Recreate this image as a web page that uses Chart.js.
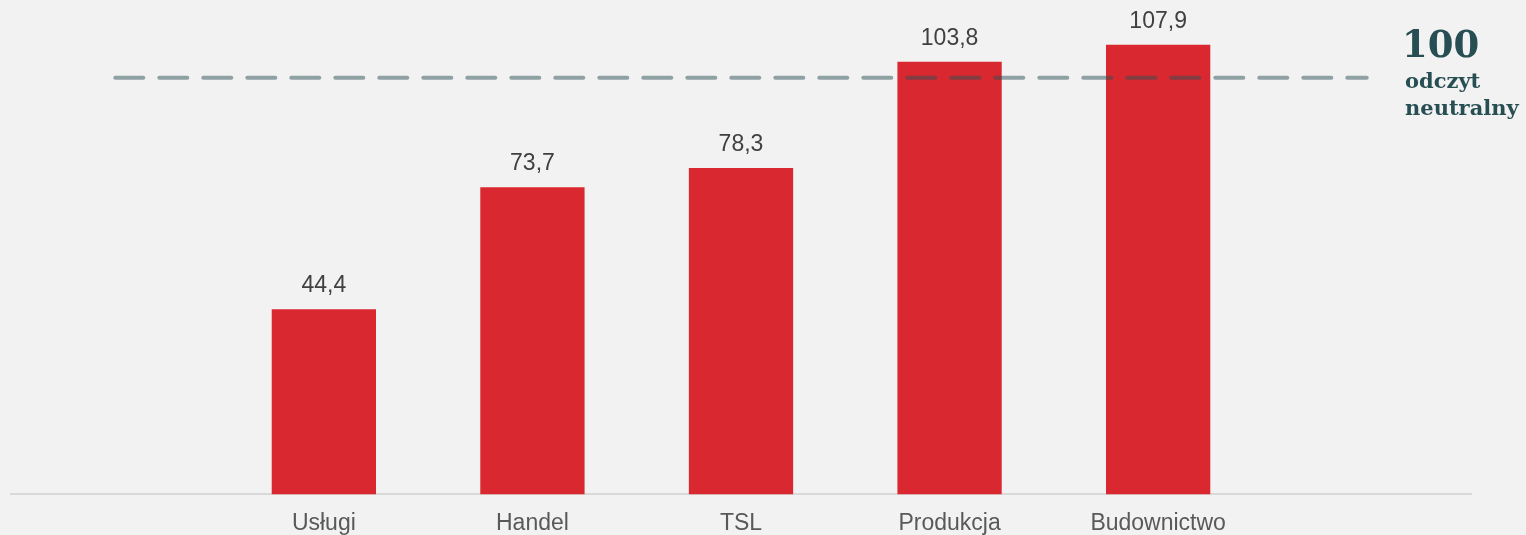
<!DOCTYPE html>
<html>
<head>
<meta charset="utf-8">
<script src="https://cdn.jsdelivr.net/npm/chart.js@4"></script>
<style>
  html, body { margin: 0; padding: 0; background: #f2f2f2; }
  #wrap { width: 1526px; height: 535px; }
</style>
</head>
<body>
<div id="wrap"><canvas id="bar-graph"></canvas></div>
<script>
// dane
const categories = ['', 'Usługi', 'Handel', 'TSL', 'Produkcja', 'Budownictwo', ''];
const values = [null, 44.4, 73.7, 78.3, 103.8, 107.9, null];
const neutral = [100, 100, 100, 100, 100, 100, 100];
const neutralText = ['100', 'odczyt', 'neutralny'];

// etykiety nad słupkami
const valueLabels = {
  id: 'valueLabels',
  afterDatasetsDraw(chart) {
    const ctx = chart.ctx;
    const meta = chart.getDatasetMeta(1);
    ctx.save();
    ctx.font = '23px "Liberation Sans", Arial, sans-serif';
    ctx.fillStyle = '#404040';
    ctx.textAlign = 'center';
    ctx.textBaseline = 'alphabetic';
    meta.data.forEach((bar, i) => {
      const v = values[i];
      if (v == null) return;
      ctx.fillText(v.toFixed(1).replace('.', ','), bar.x, bar.y - 17);
    });
    ctx.restore();
  }
};

// opis linii 100
const neutralLabel = {
  id: 'neutralLabel',
  afterDraw(chart) {
    const ctx = chart.ctx;
    const y = chart.scales.y.getPixelForValue(100);
    ctx.save();
    ctx.fillStyle = '#274f53';
    ctx.textAlign = 'left';
    ctx.textBaseline = 'alphabetic';
    ctx.font = 'bold 37px "DejaVu Serif", serif';
    ctx.fillText(neutralText[0], 1402, y - 21);
    ctx.font = 'bold 21px "DejaVu Serif", serif';
    ctx.fillText(neutralText[1], 1405, y + 10);
    ctx.fillText(neutralText[2], 1405, y + 37);
    ctx.restore();
  }
};

const ctx = document.getElementById('bar-graph');
const myChart = new Chart(ctx, {
  data: {
    labels: categories,
    datasets: [{
      type: 'line',
      data: neutral,
      borderColor: 'rgba(43,79,85,0.5)',
      borderWidth: 4,
      borderDash: [28, 16],
      borderCapStyle: 'round',
      pointRadius: 0,
      fill: false,
      order: 0,
    }, {
      type: 'bar',
      data: values,
      backgroundColor: '#d9282f',
      barPercentage: 0.5,
      categoryPercentage: 1,
      order: 1,
    }],
  },
  options: {
    responsive: true,
    maintainAspectRatio: false,
    animation: false,
    layout: {
      padding: { left: 11, right: 55, top: 36, bottom: -17 }
    },
    scales: {
      x: {
        grid: {
          display: false,
          drawTicks: false,
        },
        border: {
          display: true,
          color: '#d9d9d9',
          width: 2,
        },
        ticks: {
          padding: 15,
          color: '#595959',
          font: { family: '"Liberation Sans", Arial, sans-serif', size: 23 },
          maxRotation: 0,
          autoSkip: false,
        },
      },
      y: {
        display: false,
        min: 0,
        max: 110,
      },
    },
    plugins: {
      legend: { display: false },
      tooltip: { enabled: false },
    }
  },
  plugins: [valueLabels, neutralLabel],
});
</script>
</body>
</html>
